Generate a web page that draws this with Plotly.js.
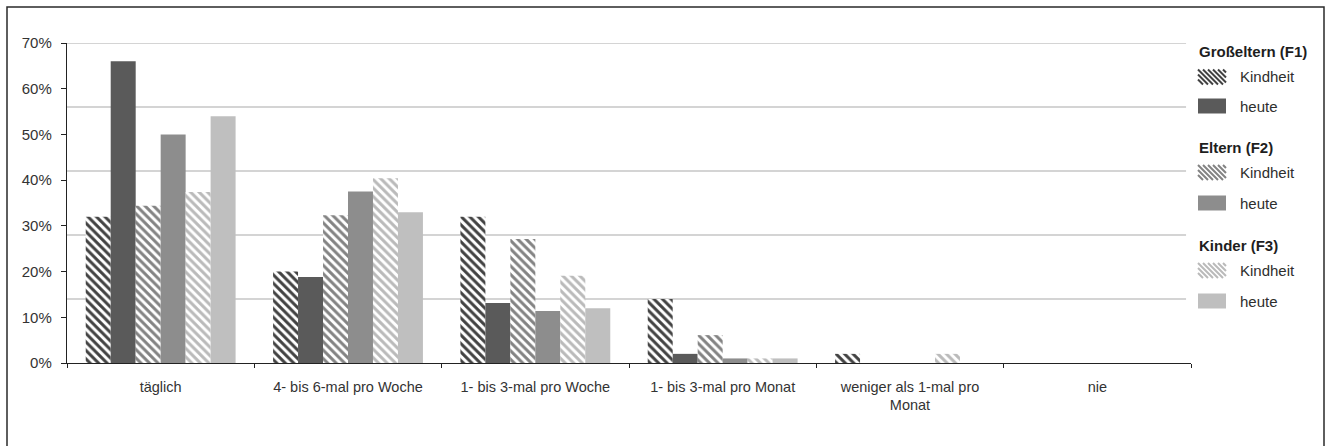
<!DOCTYPE html>
<html>
<head>
<meta charset="utf-8">
<script src="https://cdn.plot.ly/plotly-3.0.1.min.js"></script>
<style>
  html, body { margin: 0; padding: 0; background: #ffffff; }
  #chart { width: 1328px; height: 446px; }
</style>
</head>
<body>
<div id="chart"></div>
<script>
// Häufigkeit (Anteile in %) je Generation, früher (Kindheit) und heute
const categories = ['täglich', '4- bis 6-mal pro Woche', '1- bis 3-mal pro Woche',
  '1- bis 3-mal pro Monat', 'weniger als 1-mal pro Monat', 'nie'];
const tickLabels = ['täglich', '4- bis 6-mal pro Woche', '1- bis 3-mal pro Woche',
  '1- bis 3-mal pro Monat', 'weniger als 1-mal pro<br>Monat', 'nie'];
const yTickValues = [0, 10, 20, 30, 40, 50, 60, 70];
const yTickLabels = ['0%', '10%', '20%', '30%', '40%', '50%', '60%', '70%'];

const grosselternKindheit = [32, 20, 32, 14, 2, 0];
const grosselternHeute    = [66, 18.8, 13.1, 2, 0, 0];
const elternKindheit      = [34.4, 32.3, 27.1, 6.1, 0, 0];
const elternHeute         = [50, 37.5, 11.4, 1, 0, 0];
const kinderKindheit      = [37.4, 40.4, 19.1, 1, 2, 0];
const kinderHeute         = [54, 33, 12, 1, 0, 0];

const groupTitles = ['Großeltern (F1)', 'Eltern (F2)', 'Kinder (F3)'];
const itemLabels = ['Kindheit', 'heute'];

// styling
const FONT = 'Liberation Sans, Arial, sans-serif';
const shades = ['#5a5a5a', '#8d8d8d', '#bfbfbf'];
const stripeShades = ['#424242', '#838383', '#bababa'];
const gridLevels = [14, 28, 42, 56, 70];

// plot area in pixels
const W = 1328, H = 446;
const M = { l: 67, r: 137, t: 43, b: 83 };
const PW = W - M.l - M.r, PH = H - M.t - M.b;
const px2x = p => (p - M.l) / PW;
const px2y = p => (H - M.b - p) / PH;

function hatched(i) {
  return {
    color: '#ffffff',
    line: { width: 0 },
    pattern: { shape: '\\', fgcolor: stripeShades[i], bgcolor: '#ffffff', size: 6, solidity: 0.5 }
  };
}
function solid(i) {
  return { color: shades[i], line: { width: 0 } };
}

const seriesData = [
  [grosselternKindheit, grosselternHeute],
  [elternKindheit, elternHeute],
  [kinderKindheit, kinderHeute]
];

const traces = [];
seriesData.forEach((pair, g) => {
  traces.push({ type: 'bar', x: categories, y: pair[0], name: groupTitles[g] + ' ' + itemLabels[0],
    marker: hatched(g), hoverinfo: 'skip', showlegend: false });
  traces.push({ type: 'bar', x: categories, y: pair[1], name: groupTitles[g] + ' ' + itemLabels[1],
    marker: solid(g), hoverinfo: 'skip', showlegend: false });
});

const shapes = [];
const annotations = [];

// horizontal reference lines
gridLevels.forEach(v => {
  shapes.push({ type: 'line', xref: 'paper', yref: 'y', x0: 0, x1: 0.9956, y0: v, y1: v,
    line: { color: '#c6c6c6', width: 1.6 }, layer: 'below' });
});

// outer frame
shapes.push({ type: 'rect', xref: 'paper', yref: 'paper',
  x0: px2x(7), x1: px2x(1324), y0: px2y(452), y1: px2y(7),
  line: { color: '#2a2a2a', width: 1.5 }, fillcolor: 'rgba(0,0,0,0)' });

// legend with group headings
const legX = 1198, swW = 28, swH = 15, textX = 1238;
const titleY = [51, 147, 245];
const itemY = [[77, 106], [172.5, 203], [270.5, 301]];

function stripePath(x0, y0, w, h, p) {
  let d = '';
  for (let c = x0 - h; c < x0 + w; c += p) {
    const t0 = Math.max(0, x0 - c), t1 = Math.min(h, x0 + w - c);
    if (t1 - t0 > 0.3) {
      d += 'M' + px2x(c + t0).toFixed(5) + ',' + px2y(y0 + t0).toFixed(5) +
           'L' + px2x(c + t1).toFixed(5) + ',' + px2y(y0 + t1).toFixed(5);
    }
  }
  return d;
}

groupTitles.forEach((t, g) => {
  annotations.push({ xref: 'paper', yref: 'paper', x: px2x(legX - 1), y: px2y(titleY[g]),
    xanchor: 'left', yanchor: 'middle', showarrow: false, text: t,
    font: { family: FONT, size: 15, color: '#1e1e1e', weight: 'bold' } });
  itemLabels.forEach((lab, k) => {
    const cy = itemY[g][k];
    const y0 = cy - swH / 2;
    if (k === 0) {
      shapes.push({ type: 'path', xref: 'paper', yref: 'paper',
        path: stripePath(legX, y0, swW, swH, 5),
        line: { color: stripeShades[g], width: 2 } });
    } else {
      shapes.push({ type: 'rect', xref: 'paper', yref: 'paper',
        x0: px2x(legX), x1: px2x(legX + swW), y0: px2y(y0 + swH), y1: px2y(y0),
        fillcolor: shades[g], line: { width: 0 } });
    }
    annotations.push({ xref: 'paper', yref: 'paper', x: px2x(textX), y: px2y(cy),
      xanchor: 'left', yanchor: 'middle', showarrow: false, text: lab,
      font: { family: FONT, size: 15, color: '#2e2e2e' } });
  });
});

const layout = {
  width: W, height: H,
  margin: M,
  paper_bgcolor: '#ffffff',
  plot_bgcolor: '#ffffff',
  barmode: 'group',
  bargap: 0.2,
  bargroupgap: 0,
  showlegend: false,
  font: { family: FONT, size: 14.5, color: '#333333' },
  xaxis: {
    type: 'category',
    tickmode: 'array', tickvals: categories, ticktext: tickLabels,
    tickson: 'boundaries', ticks: 'outside', ticklen: 4, tickcolor: '#222', tickwidth: 1,
    showline: true, linecolor: '#222', linewidth: 1.2,
    showgrid: false, zeroline: false, automargin: false,
    ticklabelstandoff: 10,
    tickfont: { family: FONT, size: 14.5, color: '#333' }
  },
  yaxis: {
    range: [0, 70], tickmode: 'array', tickvals: yTickValues, ticktext: yTickLabels,
    ticks: 'outside', ticklen: 5, tickcolor: '#222', tickwidth: 1,
    showline: true, linecolor: '#222', linewidth: 1.2,
    showgrid: false, zeroline: false, automargin: false,
    ticklabelstandoff: 6,
    tickfont: { family: FONT, size: 15, color: '#333' }
  },
  shapes: shapes,
  annotations: annotations
};

Plotly.newPlot('chart', traces, layout, { staticPlot: true, displayModeBar: false });
</script>
</body>
</html>
